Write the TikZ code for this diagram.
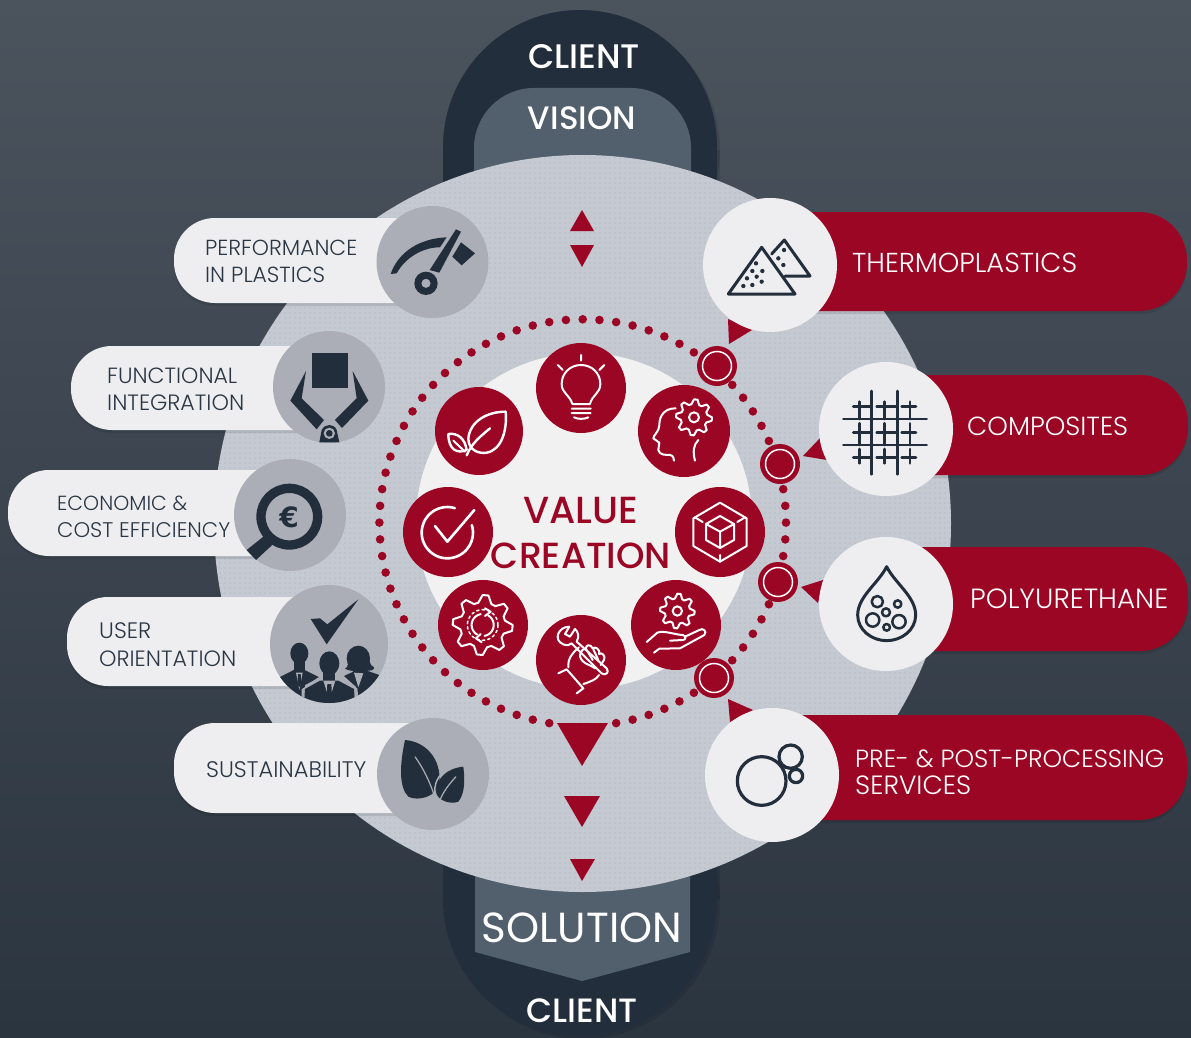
\documentclass[tikz,border=0pt]{standalone}
\usepackage{fontspec}
\usepackage{graphicx}
\setmainfont{Poppins}[UprightFont=* Light,BoldFont=* Medium]
\newfontfamily\regfont{Poppins}
\newfontfamily\eurofont{DejaVu Sans}[BoldFont=* Bold]
\usetikzlibrary{patterns.meta}
\definecolor{bgtop}{HTML}{4B535D}
\definecolor{bgbot}{HTML}{2B3540}
\definecolor{darkblue}{HTML}{222E3B}
\definecolor{slategray}{HTML}{525F6D}
\definecolor{diskgray}{HTML}{C5C9D1}
\definecolor{dotgray}{HTML}{ABAFBA}
\definecolor{iconGray}{HTML}{ABAEB6}
\definecolor{pillwhite}{HTML}{EEEEF0}
\definecolor{crimson}{HTML}{9C0625}
\definecolor{inkdark}{HTML}{2A3644}
\definecolor{centerwhite}{HTML}{F1F1F2}
\tikzset{
 zs/.style 2 args={shift={(#1,#2)},x=0.33333pt,y=-0.33333pt},
 pillshape/.style={rounded corners=41pt},
 softshadow/.style={fill=black,opacity=0.1},
 lefttext/.style={anchor=base west,inner sep=0pt,text=inkdark},
 righttext/.style={anchor=base west,inner sep=0pt,text=white},
 headtext/.style={anchor=base,inner sep=0pt,text=white},
 whiteicon/.style={draw=white,line width=2pt,line cap=round,line join=round,fill=none},
 darkicon/.style={draw=darkblue,line width=3pt,line cap=round,line join=round,fill=none},
 ringnode/.style={circle,draw=white,line width=1.5pt,fill=crimson,minimum size=29pt,inner sep=0pt},
 reddisc/.style={circle,fill=crimson,minimum size=90pt,inner sep=0pt},
 graydisc/.style={circle,fill=iconGray,minimum size=112pt,inner sep=0pt},
 paledisc/.style={circle,fill=pillwhite,minimum size=134pt,inner sep=0pt}
}
\newcommand{\fw}[2]{\resizebox{#1pt}{!}{#2}}
\newcommand{\gearpath}[4]{plot[variable=\t,domain=0:360,samples=33]
 ({#1+(mod(8*\t+10,360)<180?#4:#3)*cos(\t)},{#2+(mod(8*\t+10,360)<180?#4:#3)*sin(\t)}) -- cycle}
\newcommand{\arcpath}[5]{plot[variable=\t,domain=#4:#5,samples=40]({#1+#3*cos(\t)},{#2+#3*sin(\t)})}
\begin{document}
\begin{tikzpicture}[x=1pt,y=-1pt]
\useasboundingbox (0,0) rectangle (1191,1038);
\clip (0,0) rectangle (1191,1038);
% background
\shade[top color=bgtop,bottom color=bgbot] (0,0) rectangle (1191,1038);
% top arch
\fill[softshadow] (446,150) rectangle (720,300);
\fill[softshadow] (583,150) circle[radius=137];
\fill[darkblue] (443,147) rectangle (717,300);
\fill[darkblue] (580,147) circle[radius=137];
\fill[slategray,rounded corners=60pt] (474,88) rectangle (691,300);
% bottom arch
\fill[softshadow] (446,800) rectangle (720,899);
\fill[softshadow] (583,902) circle[radius=137];
\fill[darkblue] (443,800) rectangle (717,899);
\fill[darkblue] (580,899) circle[radius=137];
\fill[slategray] (475,800) -- (690,800) -- (690,952) -- (582,981) -- (475,952) -- cycle;
% big disk
\fill[diskgray] (582.5,523.5) circle[radius=368.5];
\fill[pattern={Dots[distance=5pt,radius=0.55pt]},pattern color=dotgray] (582.5,523.5) circle[radius=368.5];
% centre
\fill[centerwhite] (584,521) circle[radius=168];
% dotted ring
\foreach \k in {0,...,75}{
 \ifnum\k=38\relax\else\ifnum\k=37\relax\else\ifnum\k=39\relax\else
  \fill[crimson] ({582.7+203.3*cos(\k*4.73684+90)},{522.6-203.3*sin(\k*4.73684+90)}) circle[radius=4.3];
 \fi\fi\fi
}
% triangles in disk
\fill[crimson] (582,210) -- (594,231) -- (570,231) -- cycle;
\fill[crimson] (570,245) -- (594,245) -- (582,267) -- cycle;
\fill[crimson] (557,723) -- (608,723) -- (582,766) -- cycle;
\fill[crimson] (564,796) -- (600,796) -- (582,827) -- cycle;
\fill[crimson] (570,859) -- (595,859) -- (582,881) -- cycle;
% LEFT pills
\fill[softshadow,pillshape] (174,221) rectangle (450,306);
\fill[pillwhite,pillshape] (174,218) rectangle (450,303);
\fill[softshadow,pillshape] (71,349) rectangle (350,433);
\fill[pillwhite,pillshape] (71,346) rectangle (350,430);
\fill[softshadow,pillshape] (8,473) rectangle (310,559);
\fill[pillwhite,pillshape] (8,470) rectangle (310,556);
\fill[softshadow,pillshape] (67,600) rectangle (350,689);
\fill[pillwhite,pillshape] (67,597) rectangle (350,686);
\fill[softshadow,pillshape] (174,726) rectangle (450,816);
\fill[pillwhite,pillshape] (174,723) rectangle (450,813);
% left discs
\node[graydisc] (perfdisc) at (432.5,262) {};
\node[graydisc] (funcdisc) at (329,387) {};
\node[graydisc] (econdisc) at (290,515) {};
\node[graydisc,minimum size=118pt] (userdisc) at (329,644) {};
\node[graydisc] (susdisc) at (433,774) {};
% RIGHT pills
\fill[softshadow,rounded corners=48pt] (760,215) rectangle (1187,314);
\fill[crimson,rounded corners=48pt] (760,212) rectangle (1187,311);
\fill[softshadow,rounded corners=48pt] (880,378) rectangle (1188,478);
\fill[crimson,rounded corners=48pt] (880,375) rectangle (1188,475);
\fill[softshadow,rounded corners=48pt] (880,550) rectangle (1188,654);
\fill[crimson,rounded corners=48pt] (880,547) rectangle (1188,651);
\fill[softshadow,rounded corners=48pt] (760,718) rectangle (1187,823);
\fill[crimson,rounded corners=48pt] (760,715) rectangle (1187,820);
% small pointer triangles
\fill[crimson] (728,319) -- (752,330) -- (729,344) -- cycle;
\fill[crimson] (821,437) -- (803,456) -- (827,460) -- cycle;
\fill[crimson] (823,580) -- (801,587) -- (818,603) -- cycle;
\fill[crimson] (728,699) -- (753,710) -- (730,722) -- cycle;
% right discs
\node[paledisc] (thermodisc) at (770,265) {};
\node[paledisc] (compdisc) at (886,429) {};
\node[paledisc] (polydisc) at (886,604) {};
\node[paledisc] (predisc) at (772,775) {};
% ring markers
\foreach \nm/\px/\py in {ra/717/366,rb/780/464,rc/778/582,rd/714/678}{
 \fill[crimson] (\px,\py) circle[radius=20];
 \node[ringnode] (\nm) at (\px,\py) {};
}
% red discs
\node[reddisc] (bulb) at (581,388) {};
\node[reddisc,minimum size=92pt] (brain) at (684,431) {};
\node[reddisc] (cube) at (720,532) {};
\node[reddisc] (handgear) at (676,625) {};
\node[reddisc] (fist) at (581,660) {};
\node[reddisc] (cog) at (483,625) {};
\node[reddisc] (check) at (448,532) {};
\node[reddisc,minimum size=88pt] (leaf) at (479,431) {};
% ---- white icons (zoom coordinates of crop at 370,310)
\begin{scope}[zs={370}{310}]
 % bulb
 \draw[whiteicon] (607,282) .. controls (600,255) and (575,250) .. (575,222) .. controls (575,190) and (600,165) .. (633,165) .. controls (666,165) and (691,190) .. (691,222) .. controls (691,250) and (666,255) .. (660,282) -- cycle;
 \draw[whiteicon] (605,296) -- (662,296) (605,309) -- (662,309) (612,322) .. controls (622,328) and (644,328) .. (655,322);
 \draw[whiteicon] (633,135) -- (633,152) (563,165) -- (578,180) (703,165) -- (688,180);
 % brain
 \draw[whiteicon] (917,295) .. controls (885,295) and (868,315) .. (868,345) .. controls (868,365) and (850,375) .. (850,385) -- (868,398) -- (865,420) .. controls (868,435) and (885,435) .. (900,435) .. controls (910,437) and (912,445) .. (912,452);
 \draw[whiteicon] (985,390) .. controls (970,405) and (968,425) .. (975,452);
 \draw[whiteicon] \gearpath{972}{322}{40}{54};
 \draw[whiteicon] (972,322) circle[radius=15];
 % cube
 \draw[whiteicon] (1050,578) -- (1130,625) -- (1130,708) -- (1050,755) -- (970,708) -- (970,625) -- cycle;
 \draw[whiteicon] (1050,618) -- (1092,642) -- (1092,690) -- (1050,714) -- (1008,690) -- (1008,642) -- cycle;
 \draw[whiteicon] (1008,642) -- (1050,665) -- (1092,642) (1050,665) -- (1050,714) (1050,735) -- (1050,755) (975,622) -- (998,636) (1125,622) -- (1102,636);
 % hand with gear
 \draw[whiteicon] \gearpath{922}{903}{38}{52};
 \draw[whiteicon] (922,903) circle[radius=14];
 \draw[whiteicon] (830,996) -- (862,968) .. controls (880,960) and (920,975) .. (938,975) .. controls (950,978) and (948,990) .. (938,990) -- (900,992);
 \draw[whiteicon] (852,1028) -- (868,1016) -- (930,1015) -- (1003,975) .. controls (1012,965) and (1000,952) .. (988,960) -- (945,980);
 % cog with arrows
 \draw[whiteicon] \gearpath{338}{945}{68}{90};
 \draw[whiteicon] \arcpath{338}{945}{33}{-60}{80};
 \draw[whiteicon] \arcpath{338}{945}{33}{120}{260};
 \draw[whiteicon,line width=1.5pt,dash pattern=on 2.5pt off 3pt] (338,945) circle[radius=46];
 \draw[whiteicon] (345,895) -- (362,905) -- (345,918);
 \draw[whiteicon] (332,972) -- (318,985) -- (335,997);
 % check
 \draw[whiteicon,line width=2.6pt] \arcpath{232}{668}{77}{-377}{-73};
 \draw[whiteicon,line width=2.6pt] (195,648) -- (232,695) -- (313,600);
 % leaf
 \draw[whiteicon,line width=2.4pt] (407,305) .. controls (350,305) and (300,335) .. (295,385) .. controls (295,420) and (325,432) .. (350,428) .. controls (395,420) and (412,360) .. (407,305) -- cycle;
 \draw[whiteicon,line width=2.4pt] (290,436) .. controls (305,400) and (330,380) .. (360,355);
 \draw[whiteicon,line width=2.4pt] (235,372) .. controls (262,368) and (285,385) .. (290,420) .. controls (262,432) and (235,420) .. (235,372) -- cycle;
 \draw[whiteicon] (250,392) -- (285,425);
\end{scope}
% fist with wrench (crop at 530,610)
\begin{scope}[zs={530}{610}]
 \draw[whiteicon] (118,50) .. controls (85,50) and (68,90) .. (100,103) .. controls (110,108) and (120,105) .. (125,100) -- (215,190) .. controls (225,198) and (240,188) .. (230,175) -- (140,95) .. controls (148,80) and (145,65) .. (135,57) -- (120,80) -- (105,72) -- cycle;
 \draw[whiteicon] (85,190) -- (110,178) -- (160,235) -- (140,250);
 \draw[whiteicon] (115,172) .. controls (112,150) and (125,130) .. (147,112);
 \draw[whiteicon] (150,140) .. controls (150,118) and (165,115) .. (168,118) .. controls (165,105) and (182,100) .. (188,115) .. controls (195,108) and (212,118) .. (207,132) .. controls (215,125) and (228,138) .. (222,150) -- (212,165);
 \draw[whiteicon] (150,140) .. controls (160,165) and (175,160) .. (195,175);
 \draw[whiteicon] (170,120) -- (188,150) (190,118) -- (205,150);
 \draw[whiteicon] (207,195) .. controls (200,208) and (182,215) .. (160,222);
\end{scope}
% ---- dark solid icons (crop at 0,190)
\begin{scope}[zs={0}{190}]
 % gauge
 \fill[darkblue] (1172,252) .. controls (1195,185) and (1260,145) .. (1340,142) -- (1320,172) .. controls (1265,172) and (1215,205) .. (1190,250) -- cycle;
 \fill[darkblue] (1289,240) -- (1318,248) -- (1383,125) -- (1368,118) -- cycle;
 \fill[darkblue] (1383,157) -- (1425,190) -- (1385,226) -- (1357,200) -- cycle;
 \fill[darkblue,even odd rule] (1278,280) circle[radius=35] (1278,280) circle[radius=14];
 % gripper
 \fill[darkblue] (935,488) rectangle (1043,595);
 \fill[darkblue] (918,543) -- (871,632) -- (950,718) -- (972,690) -- (905,625) -- cycle;
 \fill[darkblue] (1058,543) -- (1105,632) -- (1026,714) -- (1005,690) -- (1070,625) -- cycle;
 \fill[darkblue] (958,757) -- (965,720) .. controls (975,700) and (1002,700) .. (1010,720) -- (1018,757) -- cycle;
 \fill[iconGray] (988,730) circle[radius=17];
 \fill[darkblue] (988,730) circle[radius=10];
 % magnifier euro
 \draw[darkblue,line width=9.3pt] (868,980) circle[radius=85];
 \fill[darkblue] (795,1036) -- (820,1062) -- (768,1110) -- (740,1080) -- cycle;
\end{scope}
\node[anchor=center,inner sep=0pt,text=darkblue,font=\eurofont\bfseries\fontsize{28}{28}\selectfont] (euro) at (289,517) {€};
% ---- people (crop at 270,590)
\begin{scope}[zs={270}{590}]
 \clip (177,162) circle[radius=177];
 \fill[darkblue] (122,87) -- (150,85) -- (172,103) -- (265,28) -- (170,163) -- cycle;
 \fill[darkblue] (88,190) ellipse[x radius=27,y radius=32];
 \fill[darkblue] (72,210) rectangle (104,245);
 \fill[darkblue] (28,262) -- (75,238) -- (100,238) -- (148,262) -- (105,285) -- (102,345) -- (25,345) -- cycle;
 \fill[iconGray] (78,248) -- (98,248) -- (88,300) -- cycle;
 \fill[darkblue] (84,252) -- (92,252) -- (94,280) -- (88,292) -- (82,280) -- cycle;
 \fill[darkblue] (265,205) ellipse[x radius=35,y radius=38];
 \fill[darkblue] (232,200) .. controls (235,225) and (235,230) .. (225,236) .. controls (240,245) and (250,240) .. (250,245) -- (222,258) -- (258,290) -- (270,345) -- (345,345) -- (328,255) -- (285,240) .. controls (300,245) and (315,240) .. (312,232) .. controls (298,225) and (298,210) .. (298,200) -- cycle;
 \fill[iconGray] (252,248) -- (280,250) -- (265,292) -- cycle;
 \fill[iconGray] (145,262) -- (210,262) -- (262,295) -- (268,350) -- (95,350) -- (95,298) -- cycle;
 \fill[darkblue] (178,220) ellipse[x radius=30,y radius=36];
 \fill[darkblue] (160,240) rectangle (196,275);
 \fill[darkblue] (102,345) -- (105,297) -- (150,272) -- (205,272) -- (252,297) -- (255,345) -- cycle;
 \fill[iconGray] (160,272) -- (196,272) -- (178,330) -- cycle;
 \fill[darkblue] (172,282) -- (184,282) -- (186,320) -- (178,335) -- (170,320) -- cycle;
\end{scope}
% leaves (crop at 50,570)
\begin{scope}[zs={50}{570}]
 \fill[darkblue] (1065,510) .. controls (1130,515) and (1175,570) .. (1168,640) .. controls (1160,680) and (1105,695) .. (1075,680) .. controls (1045,650) and (1050,580) .. (1065,510) -- cycle;
 \fill[darkblue] (1240,590) .. controls (1190,595) and (1160,625) .. (1158,665) .. controls (1160,690) and (1200,705) .. (1225,695) .. controls (1245,670) and (1245,630) .. (1240,590) -- cycle;
 \draw[iconGray,line width=1.2pt] (1095,560) .. controls (1130,610) and (1150,660) .. (1163,712) .. controls (1170,680) and (1190,650) .. (1218,620);
 \draw[iconGray,line width=1.5pt] (1155,680) .. controls (1150,640) and (1165,615) .. (1190,600);
\end{scope}
% ---- line icons on pale discs
\begin{scope}[zs={690}{190}]
 \draw[darkicon] (115,312) -- (215,172) -- (315,312) -- cycle;
 \draw[darkicon] (245,192) -- (283,150) -- (360,258) -- (285,258);
 \foreach \a/\b in {160/288,187/285,215/275,171/265,200/260,187/243,217/243,198/220,282/180,265/205,280/225}{\fill[darkblue] (\a,\b) circle[radius=6.5];}
\end{scope}
% composite grid (crop at 835,385)
\begin{scope}[zs={835}{385}]
 \draw[darkicon,line width=2.7pt] (110,18) -- (110,268) (187,18) -- (187,268) (25,102) -- (275,102) (25,180) -- (275,180);
 \foreach \b in {65,142,217}{\draw[darkicon,line width=2.7pt] (55,\b) -- (110,\b) (125,\b) -- (187,\b) (200,\b) -- (243,\b);}
 \foreach \a in {73,148,225}{\draw[darkicon,line width=2.7pt] (\a,50) -- (\a,102) (\a,115) -- (\a,180) (\a,192) -- (\a,235);}
\end{scope}
\begin{scope}[zs={690}{530}]
 \draw[darkicon] (590,110) .. controls (565,160) and (503,200) .. (503,255) .. controls (503,300) and (545,332) .. (590,332) .. controls (635,332) and (677,300) .. (677,255) .. controls (677,200) and (615,160) .. (590,110) -- cycle;
 \foreach \a/\b/\r in {562/215/17,623/222/11,588/247/12,548/270/20,627/275/20,590/292/10}{\draw[darkicon,line width=2.5pt] (\a,\b) circle[radius=\r];}
 \draw[darkicon,line width=3.2pt] (215,753) circle[radius=73] (302,680) circle[radius=35] (318,738) circle[radius=20];
\end{scope}
% ---- text
\node[headtext] (clienttop) at (584,69) {\fw{112}{\bfseries CLIENT}};
\node[headtext] (vision) at (582,130) {\fw{108}{\bfseries VISION}};
\node[headtext] (solution) at (582,942) {\fw{200}{\regfont SOLUTION}};
\node[headtext] (clientbot) at (582,1022) {\fw{111}{\bfseries CLIENT}};
\node[headtext,text=crimson] (valuet) at (581,523) {\fw{115}{\bfseries VALUE}};
\node[headtext,text=crimson] (creation) at (581,568) {\fw{180}{\bfseries CREATION}};
\node[lefttext] (perfa) at (205,255) {\fw{152}{PERFORMANCE}};
\node[lefttext] (perfb) at (205,282) {\fw{120}{IN PLASTICS}};
\node[lefttext] (funca) at (107,383) {\fw{130}{FUNCTIONAL}};
\node[lefttext] (funcb) at (107,410) {\fw{137}{INTEGRATION}};
\node[lefttext] (econa) at (57,510) {\fw{130}{ECONOMIC \&}};
\node[lefttext] (econb) at (57,537) {\fw{173}{COST EFFICIENCY}};
\node[lefttext] (usera) at (99,638) {\fw{52}{USER}};
\node[lefttext] (userb) at (99,666) {\fw{137}{ORIENTATION}};
\node[lefttext] (susa) at (206,777) {\fw{160}{SUSTAINABILITY}};
\node[righttext] (therm) at (852,272) {\fw{225}{THERMOPLASTICS}};
\node[righttext] (compo) at (967,435) {\fw{161}{COMPOSITES}};
\node[righttext] (polyu) at (970,608) {\fw{198}{POLYURETHANE}};
\node[righttext] (prea) at (855,767) {\fw{309}{PRE- \& POST-PROCESSING}};
\node[righttext] (preb) at (855,794) {\fw{116}{SERVICES}};
\end{tikzpicture}
\end{document}
